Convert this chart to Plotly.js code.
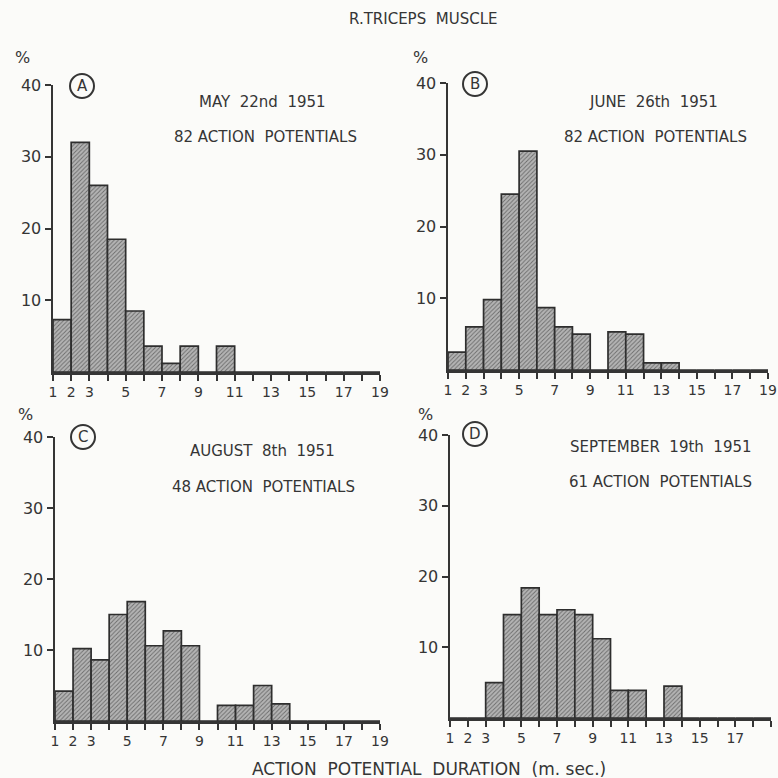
<!DOCTYPE html>
<html>
<head>
<meta charset="utf-8">
<script src="https://cdn.plot.ly/plotly-3.0.1.min.js"></script>
<style>html,body{margin:0;padding:0;background:#fbfbf9;}#chart{width:778px;height:778px;}</style>
</head>
<body>
<div id="chart"></div>
<script>
// Bin left edges (action potential duration, m.sec.)
const binStarts = [1,2,3,4,5,6,7,8,9,10,11,12,13,14,15,16,17,18];
// Percentages per bin
const valuesA = [7.3, 32, 26, 18.5, 8.5, 3.6, 1.2, 3.6, 0, 3.6, 0, 0, 0, 0, 0, 0, 0, 0];
const valuesB = [2.5, 6, 9.8, 24.5, 30.5, 8.7, 6, 5, 0, 5.3, 5, 1, 1, 0, 0, 0, 0, 0];
const valuesC = [4.2, 10.2, 8.6, 15, 16.8, 10.6, 12.7, 10.6, 0, 2.2, 2.2, 5, 2.4, 0, 0, 0, 0, 0];
const valuesD = [0, 0, 5, 14.6, 18.4, 14.6, 15.3, 14.6, 11.2, 3.9, 3.9, 0, 4.5, 0, 0, 0, 0, 0];
const panelLetters = ['A','B','C','D'];
const panelDates = ['MAY  22nd  1951','JUNE  26th  1951','AUGUST  8th  1951','SEPTEMBER  19th  1951'];
const panelCounts = ['82 ACTION  POTENTIALS','82 ACTION  POTENTIALS','48 ACTION  POTENTIALS','61 ACTION  POTENTIALS'];
const xTickVals = [1,2,3,4,5,6,7,8,9,10,11,12,13,14,15,16,17,18,19];
const xTickText = ['1','2','3','','5','','7','','9','','11','','13','','15','','17','','19'];
const yTickVals = [10,20,30,40];
const mainTitle = 'R.TRICEPS  MUSCLE';
const xTitle = 'ACTION  POTENTIAL  DURATION  (m. sec.)';

const W = 778, H = 778;
const px = x => x / W;
const py = y => 1 - y / H;

// panel geometry in pixels: left, right, top(y=40), bottom(y=0)
const geo = [
  {l:53, r:380, t:85, b:372, pct:[22,58], circ:[82,86], date:[262,102], cnt:[265,137]},
  {l:448, r:768, t:83, b:370, pct:[420,58], circ:[475,84], date:[653,102], cnt:[655,137]},
  {l:55, r:380, t:437, b:721, pct:[26,414], circ:[83,437], date:[262,451], cnt:[263,487]},
  {l:450, r:771, t:435, b:718, pct:[425,414], circ:[475,434], date:[661,447], cnt:[660,482]}
];
const allValues = [valuesA, valuesB, valuesC, valuesD];
const FONT = 'DejaVu Sans, sans-serif';
const INK = '#353535';

const traces = [];
const layout = {
  width: W, height: H,
  margin: {l:0, r:0, t:0, b:0},
  paper_bgcolor: '#fbfbf9',
  plot_bgcolor: 'rgba(0,0,0,0)',
  showlegend: false,
  bargap: 0,
  font: {family: FONT, color: INK},
  annotations: [],
  shapes: []
};

allValues.forEach((vals, i) => {
  const g = geo[i];
  const n = i + 1;
  const xa = n === 1 ? 'x' : 'x' + n;
  const ya = n === 1 ? 'y' : 'y' + n;
  traces.push({
    type: 'bar',
    x: binStarts,
    y: vals,
    width: 1,
    offset: 0,
    xaxis: xa, yaxis: ya,
    marker: {
      color: '#a8a8a8',
      line: {color: '#2e2e2e', width: 1.7},
      pattern: {shape: '/', bgcolor: '#b4b4b4', fgcolor: '#6c6c6c', size: 3, solidity: 0.3}
    },
    hoverinfo: 'x+y'
  });
  layout['xaxis' + (n === 1 ? '' : n)] = {
    domain: [px(g.l), px(g.r)],
    anchor: ya,
    range: [1, 19],
    tickmode: 'array', tickvals: xTickVals, ticktext: xTickText,
    ticks: 'outside', ticklen: 6, tickwidth: 2, tickcolor: INK,
    showline: true, linecolor: INK, linewidth: 2.5,
    showgrid: false, zeroline: false,
    tickfont: {family: FONT, size: 14, color: INK},
    fixedrange: true
  };
  layout['yaxis' + (n === 1 ? '' : n)] = {
    domain: [py(g.b), py(g.t)],
    anchor: xa,
    range: [0, 40],
    tickmode: 'array', tickvals: yTickVals,
    ticks: 'outside', ticklen: 6, tickwidth: 2, tickcolor: INK,
    showline: true, linecolor: INK, linewidth: 2.5,
    showgrid: false, zeroline: false,
    tickfont: {family: FONT, size: 16, color: INK},
    fixedrange: true
  };
  // % label
  layout.annotations.push({xref:'paper', yref:'paper', x: px(g.pct[0]), y: py(g.pct[1]),
    text: '%', showarrow: false, font: {family: FONT, size: 16, color: INK}, xanchor:'center', yanchor:'middle'});
  // circled letter
  layout.shapes.push({type:'circle', xref:'paper', yref:'paper',
    x0: px(g.circ[0]-12), x1: px(g.circ[0]+12), y0: py(g.circ[1]+12), y1: py(g.circ[1]-12),
    line: {color: INK, width: 2}});
  layout.annotations.push({xref:'paper', yref:'paper', x: px(g.circ[0]), y: py(g.circ[1]),
    text: panelLetters[i], showarrow: false, font: {family: FONT, size: 15, color: INK}, xanchor:'center', yanchor:'middle'});
  layout.annotations.push({xref:'paper', yref:'paper', x: px(g.date[0]), y: py(g.date[1]),
    text: panelDates[i], showarrow: false, font: {family: FONT, size: 15, color: INK}, xanchor:'center', yanchor:'middle'});
  layout.annotations.push({xref:'paper', yref:'paper', x: px(g.cnt[0]), y: py(g.cnt[1]),
    text: panelCounts[i], showarrow: false, font: {family: FONT, size: 15, color: INK}, xanchor:'center', yanchor:'middle'});
});

layout.annotations.push({xref:'paper', yref:'paper', x: px(423), y: py(19),
  text: mainTitle, showarrow: false, font: {family: FONT, size: 15, color: INK}, xanchor:'center', yanchor:'middle'});
layout.annotations.push({xref:'paper', yref:'paper', x: px(429), y: py(769),
  text: xTitle, showarrow: false, font: {family: FONT, size: 17, color: INK}, xanchor:'center', yanchor:'middle'});

Plotly.newPlot('chart', traces, layout, {displayModeBar: false, staticPlot: true});
</script>
</body>
</html>
